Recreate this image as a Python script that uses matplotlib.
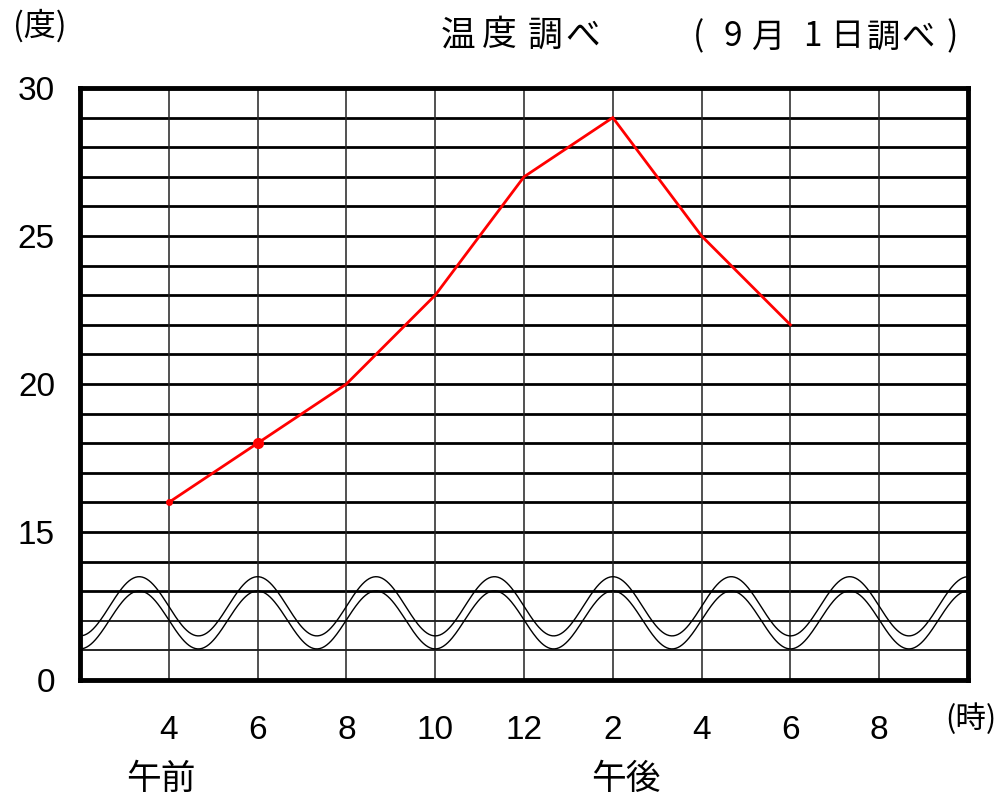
import numpy as np
import matplotlib
matplotlib.use("Agg")
from matplotlib import pyplot as plt

# hours on a 24h clock, temperature in degrees
hours = [4, 6, 8, 10, 12, 14, 16, 18]
temps = [16, 18, 20, 23, 27, 29, 25, 22]
tick_hours = [4, 6, 8, 10, 12, 14, 16, 18, 20]
tick_labels = ["4", "6", "8", "10", "12", "2", "4", "6", "8"]
y_ticks = [10, 15, 20, 25, 30]
y_labels = ["0", "15", "20", "25", "30"]   # 0..10 is cut out by the wave break

JP = ["Noto Sans CJK JP", "DejaVu Sans"]
NUM = ["Liberation Sans", "DejaVu Sans"]

W, H = 1004, 796
fig = plt.figure(figsize=(W / 100, H / 100), dpi=100)
ax = fig.add_axes([80 / W, 1 - 680 / H, (968 - 80) / W, (680 - 88) / H])
ax.set_xlim(2, 22)
ax.set_ylim(10, 30)

# grid
for v in range(11, 30):
    lw = 2.0 if v >= 13 else 1.2
    ax.axhline(v, color="black", lw=lw, zorder=1)
for h in tick_hours:
    ax.axvline(h, color="#222222", lw=1.1, zorder=1)

# axis break: two wavy lines
xs = np.linspace(2, 22, 800)
ph = 2 * np.pi * (xs - 6) / 2.667
ax.plot(xs, 12.49 + 1.0 * np.cos(ph), color="black", lw=1.0, zorder=2)
ax.plot(xs, 12.03 + 0.98 * np.cos(ph), color="black", lw=1.0, zorder=2)

# temperature line
ax.plot(hours, temps, color="#ff0000", lw=2.0, zorder=3, solid_joinstyle="miter")
ax.plot(hours[0], temps[0], "o", color="#ff0000", ms=4, zorder=4)
ax.plot(hours[1], temps[1], "o", color="#ff0000", ms=7, zorder=4)

for s in ax.spines.values():
    s.set_linewidth(3.5)
    s.set_color("black")

ax.set_xticks(tick_hours)
ax.set_xticklabels(tick_labels, family=NUM, fontsize=24)
ax.set_yticks(y_ticks)
ax.set_yticklabels(y_labels, family=NUM, fontsize=24)
ax.tick_params(length=0)
ax.tick_params(axis="x", pad=25)
ax.tick_params(axis="y", pad=18)

def px(x, y):
    return x / W, 1 - y / H

fig.text(*px(40, 26), "(度)", family=JP, fontsize=23, ha="center", va="center")
for ch, x in zip("温度調べ", [458, 499, 545, 583]):
    fig.text(*px(x, 36), ch, family=JP, fontsize=25, ha="center", va="center")
for ch, x in zip("(9月1日調べ)", [698, 733, 768, 812, 847, 883, 918, 952]):
    fig.text(*px(x, 37), ch, family=JP, fontsize=24, ha="center", va="center")
fig.text(*px(971, 719), "(時)", family=JP, fontsize=22, ha="center", va="center")
fig.text(*px(161, 779), "午前", family=JP, fontsize=25, ha="center", va="center")
fig.text(*px(626, 779), "午後", family=JP, fontsize=25, ha="center", va="center")

fig.savefig("out.png", dpi=100)
